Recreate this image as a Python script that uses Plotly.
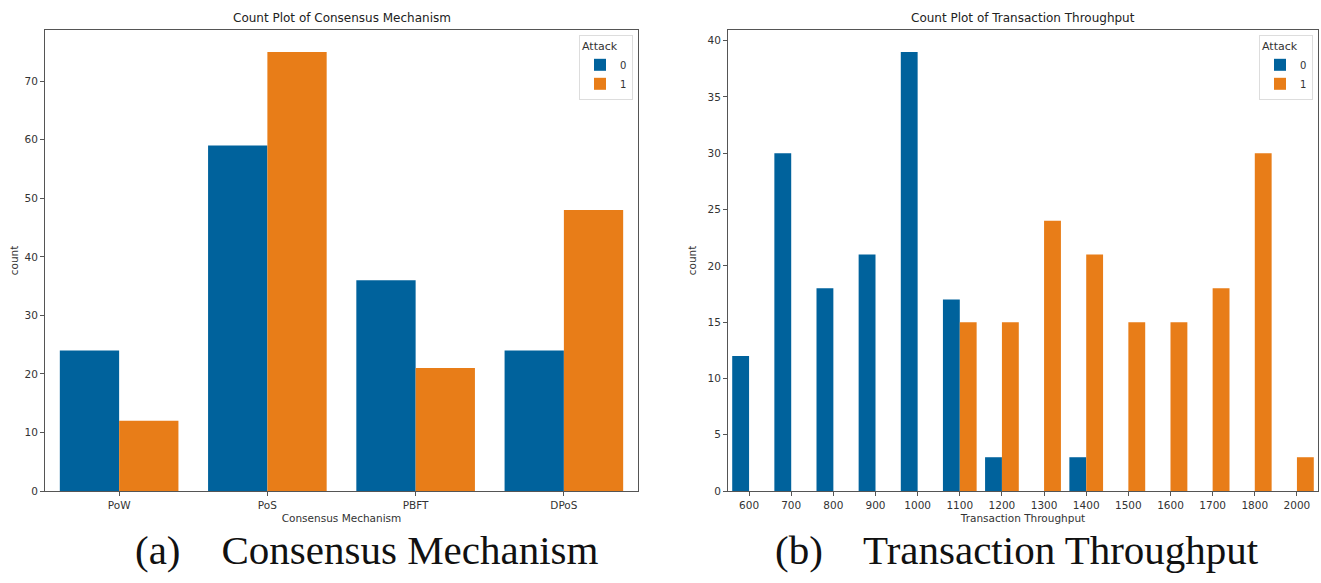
import plotly.graph_objects as go

# ---- data ----
mech_categories = ["PoW", "PoS", "PBFT", "DPoS"]
mech_attack0 = [24, 59, 36, 24]
mech_attack1 = [12, 75, 21, 48]

tp_categories = ["600", "700", "800", "900", "1000", "1100", "1200", "1300",
                 "1400", "1500", "1600", "1700", "1800", "2000"]
tp_attack0 = [12, 30, 18, 21, 39, 17, 3, 0, 3, 0, 0, 0, 0, 0]
tp_attack1 = [0, 0, 0, 0, 0, 15, 15, 24, 21, 15, 15, 18, 30, 3]

mech_yticks = [0, 10, 20, 30, 40, 50, 60, 70]
tp_yticks = [0, 5, 10, 15, 20, 25, 30, 35, 40]

BLUE = "#00629c"
ORANGE = "#e87d18"
W, H = 1321, 583

fig = go.Figure()

fig.add_trace(go.Bar(x=mech_categories, y=mech_attack0, name="0", marker_color=BLUE,
                     marker_line_width=0, xaxis="x", yaxis="y", legend="legend"))
fig.add_trace(go.Bar(x=mech_categories, y=mech_attack1, name="1", marker_color=ORANGE,
                     marker_line_width=0, xaxis="x", yaxis="y", legend="legend"))
fig.add_trace(go.Bar(x=tp_categories, y=tp_attack0, name="0", marker_color=BLUE,
                     marker_line_width=0, xaxis="x2", yaxis="y2", legend="legend2"))
fig.add_trace(go.Bar(x=tp_categories, y=tp_attack1, name="1", marker_color=ORANGE,
                     marker_line_width=0, xaxis="x2", yaxis="y2", legend="legend2"))

def px_x(v):
    return v / W

def px_y(v):
    return 1 - v / H

dom1 = [px_x(45), px_x(638)]
dom2 = [px_x(728), px_x(1318)]
ydom = [px_y(491), px_y(30)]

TXT = "#333333"
axis_common = dict(showline=True, linecolor="#555555", linewidth=1, mirror=True,
                   ticks="outside", ticklen=4, tickcolor="#555555", showgrid=False,
                   zeroline=False, automargin=False,
                   tickfont=dict(family="DejaVu Sans", size=10.5, color=TXT))
title_font = dict(family="DejaVu Sans", size=10.5, color=TXT)

def legend_cfg(dom):
    return dict(title=dict(text="Attack", side="top",
                           font=dict(family="DejaVu Sans", size=11, color=TXT)),
                x=dom[1] - 5 / W, y=ydom[1] - 5 / H,
                xanchor="right", yanchor="top", bgcolor="rgba(255,255,255,0.8)",
                bordercolor="#dddddd", borderwidth=1, tracegroupgap=0,
                itemwidth=30, font=dict(family="DejaVu Sans", size=10, color=TXT))

fig.update_layout(
    width=W, height=H,
    margin=dict(l=0, r=0, t=0, b=0, autoexpand=False),
    paper_bgcolor="white", plot_bgcolor="white",
    barmode="group", bargap=0.2, bargroupgap=0,
    xaxis=dict(domain=dom1, anchor="y", type="category", range=[-0.5, 3.5],
               title=dict(text="Consensus Mechanism", font=title_font, standoff=5),
               **axis_common),
    yaxis=dict(domain=ydom, anchor="x", range=[0, 78.75], tickvals=mech_yticks,
               title=dict(text="count", font=title_font, standoff=3),
               **axis_common),
    xaxis2=dict(domain=dom2, anchor="y2", type="category", range=[-0.5, 13.5],
                title=dict(text="Transaction Throughput", font=title_font, standoff=5),
                **axis_common),
    yaxis2=dict(domain=ydom, anchor="x2", range=[0, 40.95], tickvals=tp_yticks,
                title=dict(text="count", font=title_font, standoff=8),
                **axis_common),
    legend=legend_cfg(dom1),
    legend2=legend_cfg(dom2),
)

annotations = [
    dict(text="Count Plot of Consensus Mechanism", x=(dom1[0] + dom1[1]) / 2, y=px_y(18),
         xref="paper", yref="paper", showarrow=False, xanchor="center", yanchor="middle",
         font=dict(family="DejaVu Sans", size=12, color="#222222")),
    dict(text="Count Plot of Transaction Throughput", x=(dom2[0] + dom2[1]) / 2, y=px_y(18),
         xref="paper", yref="paper", showarrow=False, xanchor="center", yanchor="middle",
         font=dict(family="DejaVu Sans", size=12, color="#222222")),
    dict(text="(a)    Consensus Mechanism", x=px_x(133), y=px_y(550),
         xref="paper", yref="paper", showarrow=False, xanchor="left", yanchor="middle",
         font=dict(family="Liberation Serif", size=41, color="#111111")),
    dict(text="(b)    Transaction Throughput", x=px_x(773), y=px_y(550),
         xref="paper", yref="paper", showarrow=False, xanchor="left", yanchor="middle",
         font=dict(family="Liberation Serif", size=41, color="#111111")),
]
fig.update_layout(annotations=annotations)

# remove the page's default 8px body margin so the figure fills the window exactly
fig.write_html("out.html", config={"displayModeBar": False},
               post_script="document.body.style.margin='0';document.body.style.overflow='hidden';")
